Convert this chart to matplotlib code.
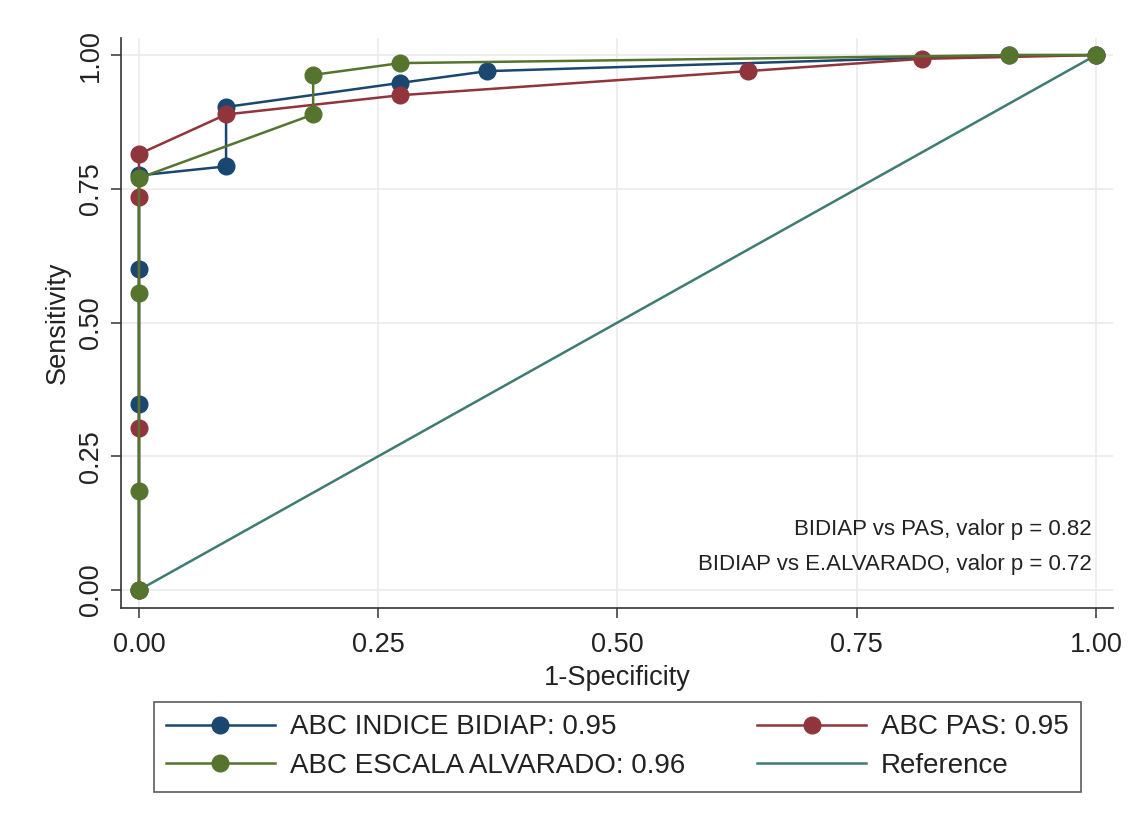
import matplotlib
matplotlib.use("Agg")
import matplotlib.pyplot as plt

plt.rcParams['font.family'] = ['Liberation Sans', 'DejaVu Sans']

# ROC points (1-specificity, sensitivity)
bidiap_fpr = [0.0, 0.0, 0.0, 0.0, 0.091, 0.091, 0.273, 0.364, 0.909, 1.0]
bidiap_tpr = [0.0, 0.348, 0.600, 0.775, 0.792, 0.903, 0.948, 0.970, 1.0, 1.0]

pas_fpr = [0.0, 0.0, 0.0, 0.0, 0.091, 0.273, 0.636, 0.818, 1.0]
pas_tpr = [0.0, 0.303, 0.734, 0.815, 0.889, 0.925, 0.970, 0.993, 1.0]

alv_fpr = [0.0, 0.0, 0.0, 0.0, 0.182, 0.182, 0.273, 0.909, 1.0]
alv_tpr = [0.0, 0.185, 0.556, 0.770, 0.889, 0.963, 0.985, 1.0, 1.0]

ref_line = [0.0, 1.0]

labels = ['ABC INDICE BIDIAP: 0.95', 'ABC PAS: 0.95',
          'ABC ESCALA ALVARADO: 0.96', 'Reference']
pvalue_notes = ['BIDIAP vs PAS, valor p = 0.82',
                'BIDIAP vs E.ALVARADO, valor p = 0.72']
ticks = [0.0, 0.25, 0.5, 0.75, 1.0]
tick_labels = ['0.00', '0.25', '0.50', '0.75', '1.00']

navy = '#1a476f'
maroon = '#90353b'
green = '#55752f'
teal = '#3e7c72'

fig = plt.figure(figsize=(11.35, 8.26), dpi=100)
ax = fig.add_axes([0.1066, 0.2639, 0.874, 0.690])

ms = 12
lw = 1.8
h1, = ax.plot(bidiap_fpr, bidiap_tpr, '-o', color=navy, lw=lw, ms=ms, zorder=3)
h2, = ax.plot(pas_fpr, pas_tpr, '-o', color=maroon, lw=lw, ms=ms, zorder=4)
h3, = ax.plot(alv_fpr, alv_tpr, '-o', color=green, lw=lw, ms=ms, zorder=5)
h4, = ax.plot(ref_line, ref_line, '-', color=teal, lw=1.8, zorder=2)

ax.set_xlim(-0.0188, 1.0178)
ax.set_ylim(-0.0336, 1.0318)
ax.set_xticks(ticks)
ax.set_xticklabels(tick_labels)
ax.set_yticks(ticks)
ax.set_yticklabels(tick_labels, rotation=90, va='center')
ax.grid(True, color='#ebebeb', lw=1.2, zorder=0)
ax.set_axisbelow(True)

for s in ['top', 'right']:
    ax.spines[s].set_visible(False)
for s in ['left', 'bottom']:
    ax.spines[s].set_color('#333333')
    ax.spines[s].set_linewidth(1.2)
ax.tick_params(direction='out', length=7, width=1.1, color='#333333',
               labelsize=19.5, labelcolor='#222222')
ax.tick_params(axis='x', pad=10.5)
ax.tick_params(axis='y', pad=5.5)

ax.set_xlabel('1-Specificity', fontsize=19.5, color='#222222', labelpad=5)
ax.set_ylabel('Sensitivity', fontsize=19.5, color='#222222', labelpad=5)

ax.text(0.996, 0.114, pvalue_notes[0], ha='right', va='center',
        fontsize=16, color='#222222')
ax.text(0.996, 0.047, pvalue_notes[1], ha='right', va='center',
        fontsize=16, color='#222222')

# legend fills column by column, so order handles to read row-wise
leg = fig.legend([h1, h3, h2, h4], [labels[0], labels[2], labels[1], labels[3]],
                 ncol=2, loc='upper center',
                 bbox_to_anchor=(617.5 / 1135, 1 - 702 / 826),
                 fontsize=20, frameon=True, fancybox=False,
                 edgecolor='#333333', handlelength=3.9, handletextpad=0.55,
                 labelspacing=0.45, columnspacing=2.6, borderpad=0.45,
                 borderaxespad=0, markerscale=1.0)
leg.get_frame().set_linewidth(1.2)
for t in leg.get_texts():
    t.set_color('#222222')

fig.savefig('out.png', dpi=100)
